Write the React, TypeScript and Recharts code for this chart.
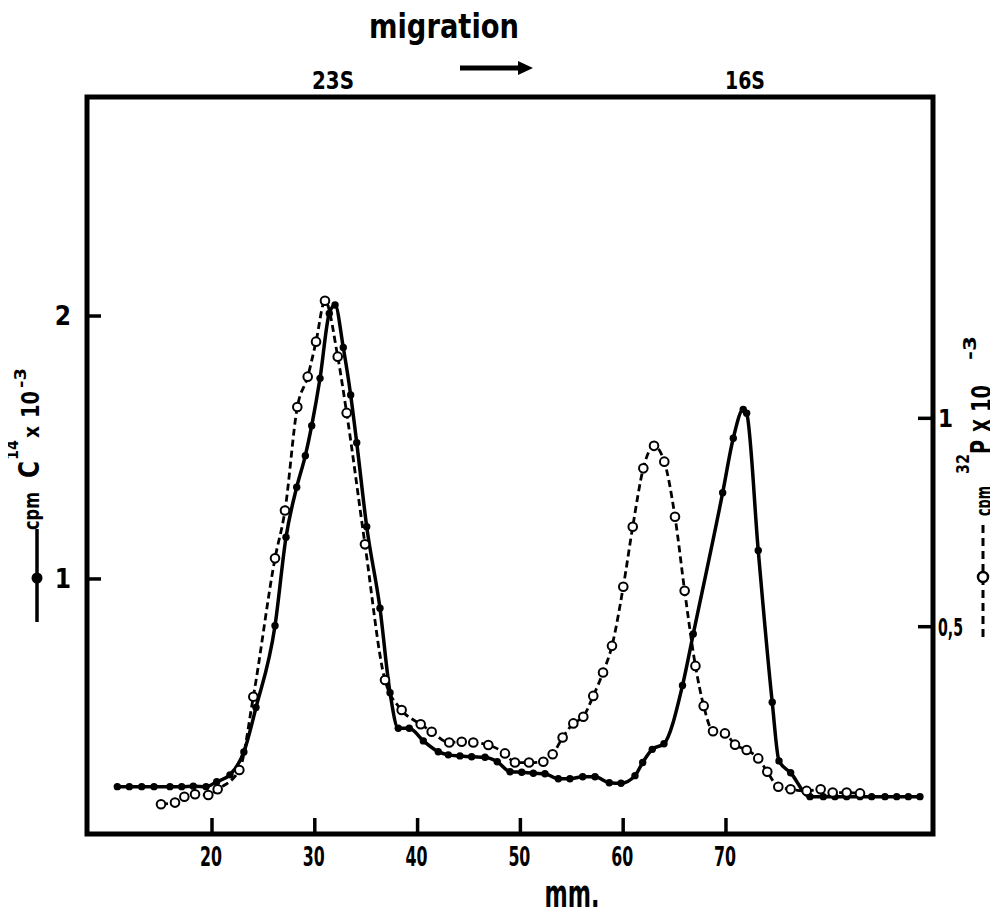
import React from "react";
import { ComposedChart, Line, XAxis, YAxis, ReferenceArea } from "recharts";

// C14 (trait plein, points noirs) — axe de gauche, cpm x 10^-3
const c14Mm = [
  10.79, 11.96, 13.16, 14.36, 15.91, 17.05, 18.18, 19.42, 20.46, 21.75, 23.1, 24.28,
  26.13, 27.2, 28.24, 29.08, 29.7, 30.51, 31.41, 31.97, 32.77, 33.49, 34.08, 35.05,
  36.34, 37.32, 38.12, 39.19, 40.56, 42.01, 42.99, 44.12, 45.26, 46.56, 47.75, 48.99,
  50.13, 51.26, 52.39, 53.69, 54.82, 56.06, 57.26, 58.65, 59.79, 61.15, 61.9, 62.83,
  63.97, 65.77, 66.82, 69.68, 70.71, 71.68, 72.01, 73.14, 74.5, 75.16, 76.29, 78.17,
  79.47, 80.6, 81.74, 83.04, 84.17, 85.47, 86.61, 87.74, 88.87,
];
const c14Cpm = [
  0.21, 0.21, 0.21, 0.21, 0.21, 0.21, 0.212, 0.21, 0.229, 0.255, 0.342, 0.511,
  0.822, 1.159, 1.349, 1.469, 1.583, 1.763, 2.01, 2.042, 1.88, 1.7, 1.518, 1.199,
  0.889, 0.567, 0.432, 0.432, 0.384, 0.343, 0.331, 0.327, 0.324, 0.322, 0.305, 0.267,
  0.265, 0.261, 0.259, 0.24, 0.24, 0.248, 0.248, 0.225, 0.223, 0.252, 0.302, 0.352,
  0.373, 0.595, 0.791, 1.328, 1.535, 1.645, 1.63, 1.108, 0.531, 0.308, 0.263, 0.172,
  0.172, 0.172, 0.172, 0.172, 0.172, 0.172, 0.172, 0.172, 0.172,
];

// 32P (tirets, cercles ouverts) — axe de droite, cpm x 10^-3
const p32Mm = [
  15.04, 16.4, 17.31, 18.35, 19.64, 20.55, 22.66, 24.02, 26.13, 27.1, 28.3, 29.31,
  30.12, 30.99, 32.23, 33.1, 34.88, 36.83, 38.45, 40.3, 41.37, 43.08, 44.29, 45.42,
  46.88, 48.5, 49.47, 50.84, 52.23, 53.14, 54.11, 55.15, 56.12, 57.09, 58.04, 58.91,
  60.01, 60.93, 61.96, 63.0, 64.0, 65.04, 65.98, 67.03, 67.83, 68.74, 69.9, 70.88,
  72.01, 73.14, 74.02, 75.09, 76.29, 77.85, 79.21, 80.38, 81.74, 83.04,
];
const p32Cpm = [
  0.074, 0.078, 0.092, 0.098, 0.096, 0.11, 0.156, 0.332, 0.664, 0.779, 1.027, 1.1,
  1.184, 1.282, 1.148, 1.013, 0.698, 0.372, 0.3, 0.266, 0.248, 0.222, 0.224, 0.222,
  0.216, 0.196, 0.174, 0.174, 0.176, 0.194, 0.234, 0.268, 0.284, 0.334, 0.39, 0.454,
  0.596, 0.74, 0.88, 0.934, 0.896, 0.764, 0.586, 0.406, 0.31, 0.249, 0.244, 0.217,
  0.204, 0.184, 0.152, 0.116, 0.11, 0.106, 0.11, 0.102, 0.102, 0.1,
];

const xTicks = [20, 30, 40, 50, 60, 70];
const leftTicks = [1, 2];
const rightTicks = [0.5, 1];
const rightTickLabels: Record<number, string> = { 0.5: "0,5", 1: "1" };

const X_DOMAIN = [7.84, 90.14];
const LEFT_DOMAIN = [0.03, 2.833];
const RIGHT_DOMAIN = [0.0026, 1.771];

const c14Data = c14Mm.map((mm, i) => ({ mm, v: c14Cpm[i] }));
const p32Data = p32Mm.map((mm, i) => ({ mm, v: p32Cpm[i] }));

const W = 982;
const H = 900;

const font = {
  fontFamily: "'DejaVu Sans Condensed', 'DejaVu Sans', sans-serif",
  fontWeight: "bold" as const,
};

const BottomTick = (props: any) => {
  const { x, y, payload } = props;
  return (
    <g>
      <line x1={x} x2={x} y1={y} y2={y - 16} stroke="#000" strokeWidth={3.5} />
      <text
        x={x - 1}
        y={y + 32}
        textAnchor="middle"
        fontSize={26}
        textLength={22}
        lengthAdjust="spacingAndGlyphs"
        fill="#000"
        style={font}
      >
        {payload.value}
      </text>
    </g>
  );
};

const LeftTick = (props: any) => {
  const { x, y, payload } = props;
  return (
    <g>
      <line x1={x} x2={x + 14} y1={y} y2={y} stroke="#000" strokeWidth={3.5} />
      <text x={x - 24} y={y + 9} textAnchor="middle" fontSize={26} fill="#000" style={font}>
        {payload.value}
      </text>
    </g>
  );
};

const RightTick = (props: any) => {
  const { x, y, payload } = props;
  const label = rightTickLabels[payload.value] ?? String(payload.value);
  return (
    <g>
      <line x1={x} x2={x - 15} y1={y} y2={y} stroke="#000" strokeWidth={3.5} />
      <text
        x={x + 5}
        y={y + 9}
        textAnchor="start"
        fontSize={24}
        fill="#000"
        style={font}
        {...(label.length > 1 ? { textLength: 25, lengthAdjust: "spacingAndGlyphs" } : {})}
      >
        {label}
      </text>
    </g>
  );
};

const filledDot = (p: any) => (
  <circle key={`f${p.index}`} cx={p.cx} cy={p.cy} r={3.7} fill="#000" stroke="none" />
);
const openDot = (p: any) => (
  <circle key={`o${p.index}`} cx={p.cx} cy={p.cy} r={4.3} fill="#fff" stroke="#000" strokeWidth={2} />
);

// texte tourné de -90°, (x = ligne de base, y = début du texte)
const VText = ({ x, y, size, len, children }: any) => (
  <text
    transform={`translate(${x},${y}) rotate(-90)`}
    fontSize={size}
    fill="#000"
    style={font}
    {...(len ? { textLength: len, lengthAdjust: "spacingAndGlyphs" } : {})}
  >
    {children}
  </text>
);

export default function App() {
  return (
    <div style={{ position: "relative", width: W, height: H, background: "#fff" }}>
      <ComposedChart width={W} height={H} margin={{ top: 89, right: 17, bottom: 44, left: 39 }}>
        <XAxis
          dataKey="mm"
          type="number"
          domain={X_DOMAIN}
          allowDataOverflow
          ticks={xTicks}
          interval={0}
          tickSize={0}
          tickMargin={0}
          axisLine={false}
          tickLine={false}
          tick={<BottomTick />}
          height={30}
        />
        <YAxis
          yAxisId="left"
          orientation="left"
          type="number"
          domain={LEFT_DOMAIN}
          allowDataOverflow
          ticks={leftTicks}
          interval={0}
          tickSize={0}
          tickMargin={0}
          axisLine={false}
          tickLine={false}
          tick={<LeftTick />}
          width={40}
        />
        <YAxis
          yAxisId="right"
          orientation="right"
          type="number"
          domain={RIGHT_DOMAIN}
          allowDataOverflow
          ticks={rightTicks}
          interval={0}
          tickSize={0}
          tickMargin={0}
          axisLine={false}
          tickLine={false}
          tick={<RightTick />}
          width={40}
        />
        <ReferenceArea
          yAxisId="left"
          x1={X_DOMAIN[0]}
          x2={X_DOMAIN[1]}
          y1={LEFT_DOMAIN[0]}
          y2={LEFT_DOMAIN[1]}
          fill="none"
          stroke="#000"
          strokeWidth={5}
          ifOverflow="visible"
        />
        <Line
          yAxisId="left"
          data={c14Data}
          dataKey="v"
          type="monotone"
          stroke="#000"
          strokeWidth={3.5}
          dot={filledDot}
          activeDot={false}
          isAnimationActive={false}
        />
        <Line
          yAxisId="right"
          data={p32Data}
          dataKey="v"
          type="monotone"
          stroke="#000"
          strokeWidth={2.8}
          strokeDasharray="7 4"
          dot={openDot}
          activeDot={false}
          isAnimationActive={false}
        />
      </ComposedChart>

      <svg
        width={W}
        height={H}
        style={{ position: "absolute", left: 0, top: 0, overflow: "visible", pointerEvents: "none" }}
      >
        {/* en-tête */}
        <text x={436} y={30} textAnchor="middle" fontSize={33} textLength={150} lengthAdjust="spacingAndGlyphs" style={font}>
          migration
        </text>
        <text x={325} y={81} textAnchor="middle" fontSize={25} textLength={42} lengthAdjust="spacingAndGlyphs" style={font}>
          23S
        </text>
        <text x={737} y={81} textAnchor="middle" fontSize={25} textLength={40} lengthAdjust="spacingAndGlyphs" style={font}>
          16S
        </text>
        <line x1={452} y1={60} x2={513} y2={60} stroke="#000" strokeWidth={5} />
        <polygon points="510,53 525,60 510,67" fill="#000" />

        {/* axe x */}
        <text x={564} y={899} textAnchor="middle" fontSize={38} textLength={55} lengthAdjust="spacingAndGlyphs" style={font}>
          mm.
        </text>

        {/* titre gauche */}
        <line x1={29} y1={521} x2={29} y2={614} stroke="#000" strokeWidth={3.5} />
        <circle cx={29} cy={570} r={5.5} fill="#000" />
        <VText x={31} y={522} size={22} len={38}>cpm</VText>
        <VText x={31} y={470} size={28} len={17}>C</VText>
        <VText x={10} y={452} size={15} len={20}>14</VText>
        <VText x={31} y={430} size={22} len={12}>x</VText>
        <VText x={31} y={410} size={25} len={27}>10</VText>
        <VText x={18} y={380} size={16} len={20}>-3</VText>

        {/* titre droite */}
        <line x1={975} y1={629} x2={975} y2={514} stroke="#000" strokeWidth={3} strokeDasharray="8 5" />
        <circle cx={975} cy={569} r={5} fill="#fff" stroke="#000" strokeWidth={2.5} />
        <VText x={983} y={508} size={22} len={30}>cpm</VText>
        <VText x={961} y={466} size={18} len={20}>32</VText>
        <VText x={983} y={446} size={28} len={14}>P</VText>
        <VText x={983} y={424} size={24} len={13}>X</VText>
        <VText x={983} y={404} size={26} len={27}>10</VText>
        <VText x={968} y={352} size={18} len={24}>-3</VText>
      </svg>
    </div>
  );
}
